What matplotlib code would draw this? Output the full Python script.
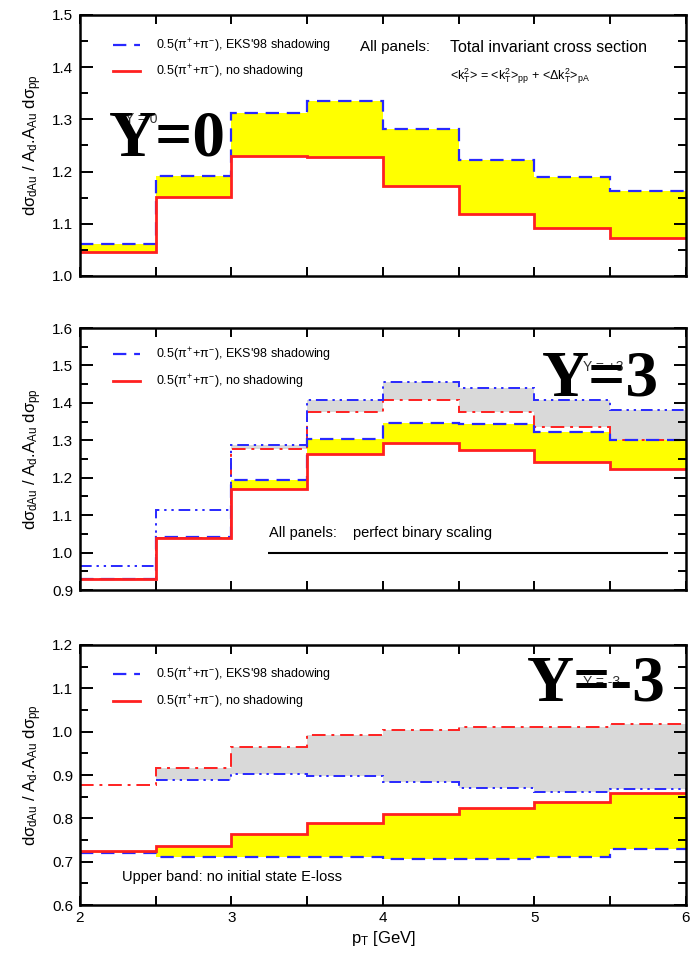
# d+Au / pp pion ratio vs pT at three rapidities (step histograms)

import numpy as np
import matplotlib.pyplot as plt
from matplotlib.lines import Line2D
from matplotlib.ticker import MultipleLocator

plt.rcParams['font.family'] = ['Liberation Sans', 'DejaVu Sans']
plt.rcParams['mathtext.fontset'] = 'custom'
plt.rcParams['mathtext.rm'] = 'Liberation Sans'
plt.rcParams['mathtext.it'] = 'Liberation Sans'

# pT bin edges (GeV)
edges = [2.0, 2.5, 3.0, 3.5, 4.0, 4.5, 5.0, 5.5, 6.0]

# Y = 0
y0_eks = [1.061, 1.191, 1.312, 1.336, 1.282, 1.222, 1.190, 1.163]
y0_noshad = [1.046, 1.151, 1.229, 1.228, 1.172, 1.118, 1.091, 1.072]

# Y = +3 (lower band: with E-loss, upper band: no initial state E-loss)
y3_eks = [0.929, 1.043, 1.193, 1.303, 1.347, 1.343, 1.321, 1.301]
y3_noshad = [0.929, 1.038, 1.169, 1.263, 1.294, 1.273, 1.243, 1.223]
y3_eks_noloss = [0.964, 1.114, 1.287, 1.408, 1.456, 1.441, 1.408, 1.381]
y3_noshad_noloss = [0.929, 1.038, 1.278, 1.376, 1.408, 1.376, 1.336, 1.300]
y3_band_from = 2      # grey band only drawn from the 3rd bin on

# Y = -3
ym3_eks = [0.721, 0.711, 0.711, 0.711, 0.707, 0.707, 0.711, 0.730]
ym3_noshad = [0.725, 0.736, 0.765, 0.790, 0.809, 0.825, 0.838, 0.859]
ym3_eks_noloss = [0.877, 0.888, 0.902, 0.898, 0.884, 0.871, 0.861, 0.867]
ym3_noshad_noloss = [0.877, 0.917, 0.965, 0.992, 1.005, 1.011, 1.011, 1.017]
ym3_band_from = 1

BLUE = '#2828ff'
RED = '#ff2020'
YELLOW = '#ffff00'
GRAY = '#d9d9d9'

lab_eks = r"0.5($\pi^{+}$+$\pi^{-}$), EKS'98 shadowing"
lab_no = r"0.5($\pi^{+}$+$\pi^{-}$), no shadowing"
ylab = r"d$\sigma_{\rm dAu}$ / A$_{\rm d}$.A$_{\rm Au}$ d$\sigma_{\rm pp}$"

fig = plt.figure(figsize=(6.92, 9.66), dpi=100)
left, width = 0.1156, 0.8757
ax1 = fig.add_axes([left, 0.7143, width, 0.2702])
ax2 = fig.add_axes([left, 0.3892, width, 0.2712])
ax3 = fig.add_axes([left, 0.0631, width, 0.2692])

dash = dict(color=BLUE, lw=1.6, linestyle=(0, (6, 3.5)))
solid = dict(color=RED, lw=2.0)
dashdotdot = dict(color=BLUE, lw=1.4, linestyle=(0, (6, 2.5, 1.2, 2.5, 1.2, 2.5)))
dashdot = dict(color=RED, lw=1.4, linestyle=(0, (7, 3, 1.5, 3)))


def style_axes(ax, ylim, show_x):
    ax.set_xlim(2, 6)
    ax.set_ylim(*ylim)
    ax.xaxis.set_major_locator(MultipleLocator(1))
    ax.xaxis.set_minor_locator(MultipleLocator(0.5))
    ax.yaxis.set_major_locator(MultipleLocator(0.1))
    ax.yaxis.set_minor_locator(MultipleLocator(0.05))
    ax.tick_params(axis='both', which='both', direction='in', top=True, right=True,
                   width=1.4, labelsize=11)
    ax.tick_params(axis='y', which='major', length=9, pad=5)
    ax.tick_params(axis='y', which='minor', length=6)
    ax.tick_params(axis='x', which='both', length=6.5, pad=4)
    ax.yaxis.set_major_formatter(plt.FormatStrFormatter('%.1f'))
    if not show_x:
        ax.tick_params(axis='x', labelbottom=False)
    for s in ax.spines.values():
        s.set_linewidth(1.8)
    ax.set_ylabel(ylab, fontsize=12, labelpad=6)


def add_legend(ax, ymid):
    h = [Line2D([], [], **dash), Line2D([], [], **solid)]
    ax.legend(h, [lab_eks, lab_no], loc='center left', bbox_to_anchor=(0.054, ymid),
              frameon=False, fontsize=9, handlelength=2.2, handletextpad=1.3,
              labelspacing=0.65, borderpad=0, borderaxespad=0)


big = dict(fontsize=47, fontweight='bold', family='Liberation Serif',
           ha='left', va='baseline', zorder=6)
small = dict(fontsize=10, color='#333333', ha='left', va='center', zorder=5)

# ---- Y = 0 ----
ax1.stairs(y0_eks, edges, baseline=y0_noshad, fill=True, color=YELLOW, lw=0)
ax1.stairs(y0_eks, edges, baseline=None, **dash)
ax1.stairs(y0_noshad, edges, baseline=None, **solid)
style_axes(ax1, (1.0, 1.5), False)
add_legend(ax1, 0.832)
ax1.text(3.85, 1.438, 'All panels:', fontsize=11, va='center')
ax1.text(4.44, 1.438, 'Total invariant cross section', fontsize=11.5, va='center')
ax1.text(4.44, 1.383, r'<k$_T^2$> = <k$_T^2$>$_{\rm pp}$ + <$\Delta$k$_T^2$>$_{\rm pA}$',
         fontsize=9, va='center')
ax1.text(2.30, 1.301, 'Y = 0', **small)
ax1.text(2.19, 1.231, 'Y=0', **big)

# ---- Y = +3 ----
b = y3_band_from
ax2.stairs(y3_eks_noloss[b:], edges[b:], baseline=y3_noshad_noloss[b:], fill=True,
           color=GRAY, lw=0)
ax2.stairs(y3_eks, edges, baseline=y3_noshad, fill=True, color=YELLOW, lw=0)
ax2.stairs(y3_noshad_noloss, edges, baseline=None, **dashdot)
ax2.stairs(y3_eks_noloss, edges, baseline=None, **dashdotdot)
ax2.stairs(y3_eks, edges, baseline=None, **dash)
ax2.stairs(y3_noshad, edges, baseline=None, **solid)
style_axes(ax2, (0.9, 1.6), False)
add_legend(ax2, 0.846)
ax2.hlines(1.0, 3.24, 5.88, color='black', lw=1.5)
ax2.text(3.25, 1.053, 'All panels:', fontsize=10.5, va='center')
ax2.text(3.80, 1.053, 'perfect binary scaling', fontsize=10.5, va='center')
ax2.text(5.32, 1.496, 'Y = +3', **small)
ax2.text(5.05, 1.421, 'Y=3', **big)

# ---- Y = -3 ----
b = ym3_band_from
ax3.stairs(ym3_noshad_noloss[b:], edges[b:], baseline=ym3_eks_noloss[b:], fill=True,
           color=GRAY, lw=0)
ax3.stairs(ym3_noshad, edges, baseline=ym3_eks, fill=True, color=YELLOW, lw=0)
ax3.stairs(ym3_eks_noloss[b:], edges[b:], baseline=None, **dashdotdot)
ax3.stairs(ym3_noshad_noloss, edges, baseline=None, **dashdot)
ax3.stairs(ym3_eks, edges, baseline=None, **dash)
ax3.stairs(ym3_noshad, edges, baseline=None, **solid)
style_axes(ax3, (0.6, 1.2), True)
add_legend(ax3, 0.833)
ax3.text(2.28, 0.664, 'Upper band: no initial state E-loss', fontsize=10.5, va='center')
ax3.text(5.32, 1.115, 'Y = -3', **small)
ax3.text(4.95, 1.073, 'Y=-3', **big)
ax3.set_xlabel(r'p$_{\rm T}$ [GeV]', fontsize=12, labelpad=3)

fig.align_ylabels([ax1, ax2, ax3])
plt.savefig('out.png', dpi=100)
